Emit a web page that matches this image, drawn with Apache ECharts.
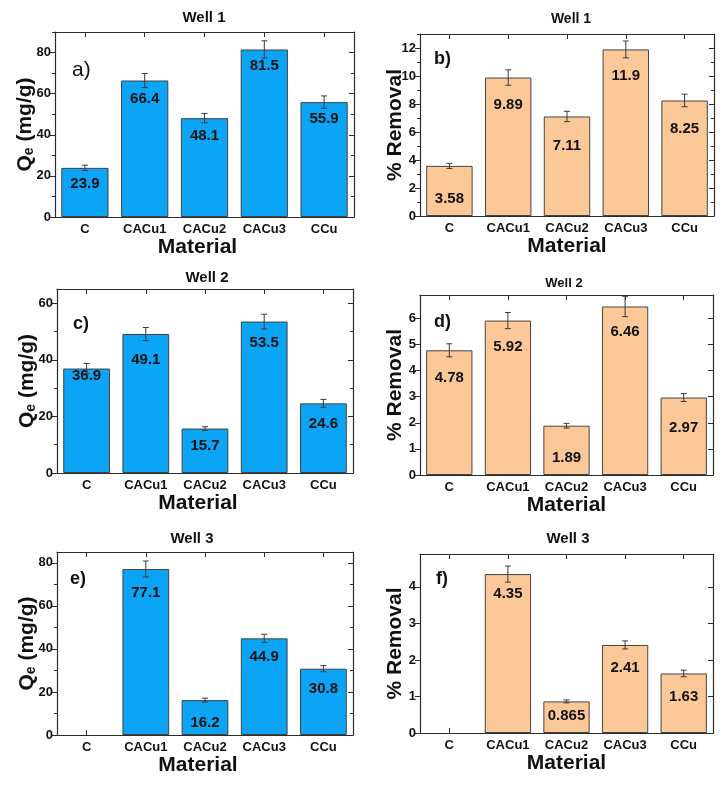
<!DOCTYPE html>
<html><head><meta charset="utf-8">
<script src="https://cdn.jsdelivr.net/npm/echarts@6/dist/echarts.min.js"></script>
<style>html,body{margin:0;padding:0;background:#fff}#c{width:722px;height:787px}</style>
</head><body><div id="c"></div>
<script>
// ---------------- DATA ----------------
const categories = ['C', 'CACu1', 'CACu2', 'CACu3', 'CCu'];
const qeWell1 = [23.9, 66.4, 48.1, 81.5, 55.9];
const qeWell1Err = [1.3, 3.4, 2.3, 4.2, 3.0];
const remWell1 = [3.58, 9.89, 7.11, 11.9, 8.25];
const remWell1Err = [0.18, 0.55, 0.37, 0.6, 0.45];
const qeWell2 = [36.9, 49.1, 15.7, 53.5, 24.6];
const qeWell2Err = [1.8, 2.3, 0.65, 2.6, 1.4];
const remWell2 = [4.78, 5.92, 1.89, 6.46, 2.97];
const remWell2Err = [0.25, 0.31, 0.09, 0.39, 0.15];
const qeWell3 = [null, 77.1, 16.2, 44.9, 30.8];
const qeWell3Err = [null, 3.7, 0.9, 1.9, 1.4];
const remWell3 = [null, 4.35, 0.865, 2.41, 1.63];
const remWell3Err = [null, 0.22, 0.04, 0.11, 0.09];
const panelTitles = ['Well 1', 'Well 1', 'Well 2', 'Well 2', 'Well 3', 'Well 3'];
const panelLetters = ['a)', 'b)', 'c)', 'd)', 'e)', 'f)'];
const yMax = [90, 13, 65, 6.9, 85, 4.9];
const yMajorTicks = [
  [0, 20, 40, 60, 80],
  [0, 2, 4, 6, 8, 10, 12],
  [0, 20, 40, 60],
  [0, 1, 2, 3, 4, 5, 6],
  [0, 20, 40, 60, 80],
  [0, 1, 2, 3, 4]
];
const yMinorTicks = [
  [10, 30, 50, 70, 90],
  [1, 3, 5, 7, 9, 11, 13],
  [10, 30, 50],
  [],
  [10, 30, 50, 70],
  []
];
const xAxisTitle = 'Material';
const qeAxisTitle = '{q|Q}{s|e}{q| (mg/g)}';
const removalAxisTitle = '% Removal';

// ---------------- STYLE / LAYOUT ----------------
const FONT = '"Liberation Sans", Arial, Helvetica, sans-serif';
const AX = '#2b2b2b';
const BLUE = '#0ca4f4';
const ORANGE = '#fdc898';
const panels = [
  { vals: qeWell1, errs: qeWell1Err, qe: true },
  { vals: remWell1, errs: remWell1Err, qe: false },
  { vals: qeWell2, errs: qeWell2Err, qe: true },
  { vals: remWell2, errs: remWell2Err, qe: false },
  { vals: qeWell3, errs: qeWell3Err, qe: true },
  { vals: remWell3, errs: remWell3Err, qe: false }
];
const gridPos = [
  { l: 55, t: 32, w: 299, h: 185 },
  { l: 420, t: 34, w: 294, h: 182 },
  { l: 57, t: 289, w: 296, h: 184 },
  { l: 420, t: 295, w: 293, h: 180 },
  { l: 57, t: 552, w: 296, h: 183 },
  { l: 420, t: 554, w: 293, h: 179 }
];
// label centre offset below bar top (px)
const labelCenterOffset = [
  [16, 19, 18, 17, 17],
  [33, 28, 30, 27, 29],
  [8, 26, 18, 22, 21],
  [28, 27, 33, 26, 31],
  [22, 24, 23, 19, 21],
  [20, 20, 15, 23, 24]
];
const titlePos = [[204, 18, 15], [571, 19, 14], [207, 278, 15], [564, 283, 13], [192, 539, 15], [568, 539, 15]];
const letterPos = [[72, 70], [434, 59], [73, 324], [434, 322], [70, 579], [436, 579]];

const option = {
  animation: false,
  backgroundColor: '#fff',
  textStyle: { fontFamily: FONT },
  grid: [], xAxis: [], yAxis: [], series: [], graphic: []
};

panels.forEach((p, i) => {
  const g = gridPos[i];
  option.grid.push({ left: g.l, top: g.t, width: g.w, height: g.h });
  const axLine = { show: true, onZero: false, lineStyle: { color: AX, width: 1.2 } };
  option.xAxis.push({
    type: 'category', gridIndex: i, data: categories, position: 'bottom',
    axisLine: axLine,
    axisTick: { show: true, inside: true, alignWithLabel: true, length: 5, lineStyle: { color: AX } },
    axisLabel: { color: '#111', fontWeight: 'bold', fontSize: 13, margin: 6, fontFamily: FONT },
    name: xAxisTitle, nameLocation: 'middle', nameGap: 20, nameMoveOverlap: false,
    nameTextStyle: { fontSize: 21, fontWeight: 'bold', color: '#111', fontFamily: FONT, padding: p.qe ? [0, 14, 0, 0] : 0 },
    splitLine: { show: false }
  });
  option.xAxis.push({
    type: 'category', gridIndex: i, data: categories, position: 'top',
    axisLine: axLine,
    axisTick: { show: true, inside: true, alignWithLabel: true, length: 5, lineStyle: { color: AX } },
    axisLabel: { show: false }, splitLine: { show: false }
  });
  const base = { type: 'value', gridIndex: i, min: 0, max: yMax[i], splitLine: { show: false } };
  const minorEmpty = yMinorTicks[i].length === 0;
  option.yAxis.push(Object.assign({}, base, {
    position: 'left', axisLine: axLine,
    axisTick: { show: true, inside: false, length: 5, customValues: yMajorTicks[i], lineStyle: { color: AX } },
    axisLabel: { customValues: yMajorTicks[i], color: '#111', fontWeight: 'bold', fontSize: 13, margin: 4, fontFamily: FONT },
    name: p.qe ? qeAxisTitle : removalAxisTitle,
    nameLocation: 'middle', nameRotate: 90, nameGap: p.qe ? 19 : 14, nameMoveOverlap: false,
    nameTextStyle: p.qe ? {
      color: '#111', fontFamily: FONT,
      rich: {
        q: { fontSize: 21, fontWeight: 'bold', color: '#111', fontFamily: FONT },
        s: { fontSize: 14, fontWeight: 'bold', color: '#111', fontFamily: FONT, verticalAlign: 'bottom' }
      }
    } : { fontSize: 21, fontWeight: 'bold', color: '#111', fontFamily: FONT }
  }));
  option.yAxis.push(Object.assign({}, base, {
    position: 'left', axisLine: { show: false, onZero: false },
    axisTick: { show: !minorEmpty, inside: false, length: 3, customValues: minorEmpty ? [0] : yMinorTicks[i], lineStyle: { color: AX } },
    axisLabel: { show: false, customValues: [] }
  }));
  option.yAxis.push(Object.assign({}, base, {
    position: 'right', axisLine: axLine,
    axisTick: { show: true, inside: true, length: 5, customValues: yMajorTicks[i], lineStyle: { color: AX } },
    axisLabel: { show: false, customValues: [] }
  }));
  option.yAxis.push(Object.assign({}, base, {
    position: 'right', axisLine: { show: false, onZero: false },
    axisTick: { show: !minorEmpty, inside: true, length: 3, customValues: minorEmpty ? [0] : yMinorTicks[i], lineStyle: { color: AX } },
    axisLabel: { show: false, customValues: [] }
  }));

  option.series.push({
    type: 'bar', xAxisIndex: 2 * i, yAxisIndex: 4 * i, barWidth: '79%',
    itemStyle: { color: p.qe ? BLUE : ORANGE, borderColor: '#444', borderWidth: 1 },
    label: {
      show: true, position: 'insideTop', fontSize: 15, fontWeight: 'bold', color: '#111', fontFamily: FONT,
      formatter: (d) => (d.value == null ? '' : String(d.value))
    },
    data: p.vals.map((v, j) => ({ value: v, label: { distance: labelCenterOffset[i][j] - 8 } })),
    z: 2
  });
  const errData = [];
  p.vals.forEach((v, j) => { if (v != null) errData.push([j, v, p.errs[j]]); });
  option.series.push({
    type: 'custom', xAxisIndex: 2 * i, yAxisIndex: 4 * i, z: 3, clip: false,
    encode: { x: 0, y: 1 },
    data: errData,
    renderItem: (params, api) => {
      const x = api.value(0), v = api.value(1), e = api.value(2);
      const top = api.coord([x, v + e]);
      const bot = api.coord([x, v - e]);
      const hw = 3;
      const st = { stroke: '#3a3a3a', lineWidth: 1 };
      return {
        type: 'group', children: [
          { type: 'line', shape: { x1: top[0], y1: top[1], x2: bot[0], y2: bot[1] }, style: st },
          { type: 'line', shape: { x1: top[0] - hw, y1: top[1], x2: top[0] + hw, y2: top[1] }, style: st },
          { type: 'line', shape: { x1: bot[0] - hw, y1: bot[1], x2: bot[0] + hw, y2: bot[1] }, style: st }
        ]
      };
    }
  });

  const tp = titlePos[i];
  option.graphic.push({
    type: 'text', x: tp[0], y: tp[1], z: 10,
    style: { text: panelTitles[i], fill: '#111', font: 'bold ' + tp[2] + 'px ' + FONT, textAlign: 'center', textVerticalAlign: 'middle' }
  });
  const lp = letterPos[i];
  option.graphic.push({
    type: 'text', x: lp[0], y: lp[1], z: 10,
    style: { text: panelLetters[i], fill: '#111', font: (i === 0 ? 'normal 21px ' : 'bold 18px ') + FONT, textAlign: 'left', textVerticalAlign: 'middle' }
  });
});

const chart = echarts.init(document.getElementById('c'), null, { renderer: 'canvas' });
chart.setOption(option);
</script>
</body></html>
